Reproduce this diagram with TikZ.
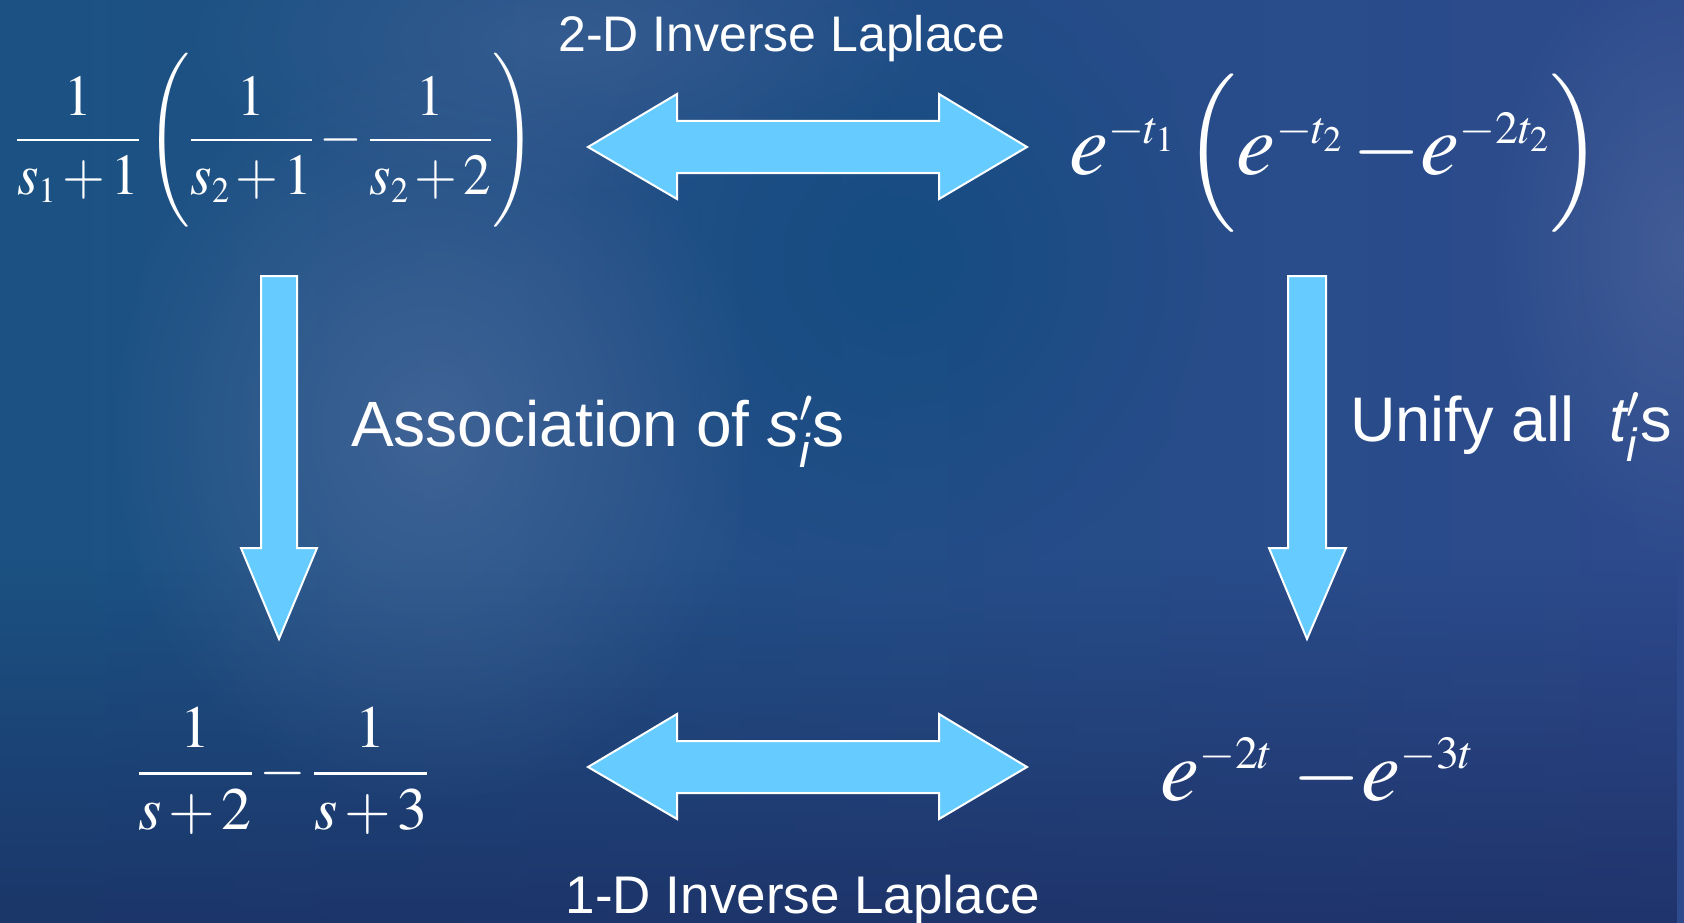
\documentclass[tikz,border=0pt]{standalone}
\usepackage{amsmath}
\usepackage{graphicx}
\usepackage{mathptmx}
\usepackage{fontspec}
\setmainfont{Liberation Sans}
\usetikzlibrary{fadings}

\tikzfading[name=glow, inner color=transparent!0, outer color=transparent!100]

\definecolor{bgleft}{HTML}{1B5283}
\definecolor{bgmid}{HTML}{0E4C7E}
\definecolor{bgright}{HTML}{2D4A8C}
\definecolor{bgdark}{HTML}{1B2A5E}
\definecolor{bglight}{HTML}{5A73A3}
\definecolor{arrowblue}{HTML}{66CCFF}

\DeclareMathSizes{58}{58}{36}{28}
\DeclareMathSizes{60}{60}{36}{28}
\DeclareMathSizes{88}{88}{46}{36}

\newcommand{\fsz}[1]{\fontsize{#1}{#1}\selectfont}
\newcommand{\primed}[1]{{\itshape #1}$^{\prime}_{\text{\itshape i}}$s}
\medmuskip=2mu plus 1mu minus 1mu

\begin{document}
\begin{tikzpicture}[x=1pt, y=-1pt]
        \tikzstyle{blockarrow}=[draw=white, line width=2pt, fill=arrowblue, line join=miter];
        \tikzstyle{lbl}=[text=white, inner sep=0pt];
        \tikzstyle{formula}=[text=white, inner sep=0pt];

        \useasboundingbox (0,0) rectangle (1684,923);
        % background
        \begin{scope}
        \clip (0,0) rectangle (1684,923);
        \shade[left color=bgleft, middle color=bgmid, right color=bgright] (0,0) rectangle (1684,923);
        \fill[bgdark, opacity=0.7, path fading=north] (0,560) rectangle (1684,923);
        \fill[bgmid, opacity=0.7, path fading=glow] (900,260) ellipse (320 and 330);
        \fill[bglight, opacity=0.55, path fading=glow] (430,430) ellipse (330 and 380);
        \fill[bglight, opacity=0.35, path fading=glow] (560,40) ellipse (380 and 160);
        \fill[bglight, opacity=0.45, path fading=glow] (1684,250) ellipse (200 and 320);
        \end{scope}

        % formulas
        \node[formula, font=\fsz{58}] (slap2) at (276,140)
            {\scalebox{0.95}[1]{$\dfrac{1}{s_1+1}\left(\dfrac{1}{s_2+1}-\dfrac{1}{s_2+2}\vphantom{\rule[-1.15em]{0pt}{1.7em}}\right)$}};
        \node[formula, font=\fsz{88}, anchor=base west] (time2) at (1069,175)
            {$e^{-t_1}\left(e^{-t_2}\:{-}e^{-2t_2}\vphantom{\rule[-0.45em]{0pt}{1.15em}}\right)$};
        \node[formula, font=\fsz{60}] (slap1) at (283,771)
            {$\dfrac{1}{s+2}-\dfrac{1}{s+3}$};
        \node[formula, font=\fsz{88}, anchor=base west] (time1) at (1160,800)
            {$e^{-2t}\;{-}e^{-3t}$};

        % labels
        \node[lbl, font=\fsz{50}, anchor=base] (twod) at (782,52) {2-D Inverse Laplace};
        \node[lbl, font=\fsz{53}, anchor=base] (oned) at (803,913) {1-D Inverse Laplace};
        \node[lbl, font=\fsz{64}, anchor=base west] (assoc) at (351,446) {Association of \primed{s}};
        \node[lbl, font=\fsz{63}, anchor=base west] (unify) at (1350,441) {Unify all\ \ \primed{t}};

        % block arrows
        \draw[blockarrow] (588,147) -- (677,94) -- (677,121) -- (939,121) -- (939,94) -- (1027,147)
            -- (939,199) -- (939,173) -- (677,173) -- (677,199) -- cycle;
        \draw[blockarrow] (588,767) -- (677,714) -- (677,741) -- (939,741) -- (939,714) -- (1027,767)
            -- (939,819) -- (939,793) -- (677,793) -- (677,819) -- cycle;
        \draw[blockarrow] (261,276) -- (297,276) -- (297,548) -- (317,548) -- (279,639)
            -- (241,548) -- (261,548) -- cycle;
        \draw[blockarrow] (1288,276) -- (1326,276) -- (1326,548) -- (1346,548) -- (1307,639)
            -- (1269,548) -- (1288,548) -- cycle;
\end{tikzpicture}
\end{document}
